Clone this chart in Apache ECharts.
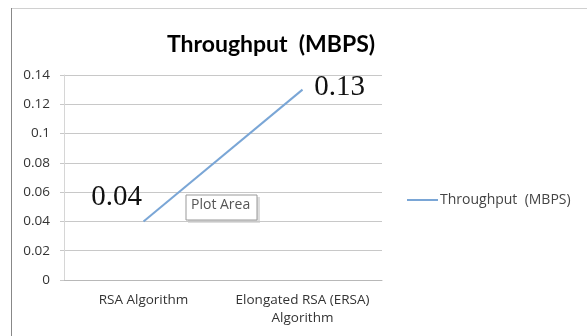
<!DOCTYPE html>
<html>
<head>
<meta charset="utf-8">
<script src="https://cdn.jsdelivr.net/npm/echarts@6/dist/echarts.min.js"></script>
<style>html,body{margin:0;padding:0;background:#fff}#c{width:587px;height:336px}</style>
</head>
<body>
<div id="c"></div>
<script>
var categories = ['RSA Algorithm', 'Elongated RSA (ERSA)\nAlgorithm'];
var throughput = [0.04, 0.13];
var seriesName = 'Throughput  (MBPS)';
var titleText = 'Throughput  (MBPS)';

var chart = echarts.init(document.getElementById('c'), null, {renderer: 'canvas'});
var labelOffsets = [[-27, -24], [37, -2]];
chart.setOption({
  animation: false,
  backgroundColor: '#fff',
  title: {
    text: titleText,
    left: 266, top: 28, textAlign: 'center',
    textStyle: {fontFamily: 'Lato', fontWeight: 'bold', fontSize: 23, color: '#000'}
  },
  legend: {
    left: 402, top: 188,
    itemWidth: 31, itemHeight: 14, itemGap: 4,
    icon: 'path://M0,6 L31,6 L31,8 L0,8 Z',
    textStyle: {fontFamily: 'Open Sans', fontSize: 14, color: '#444', padding: [0, 0, 0, -3]},
    data: [seriesName]
  },
  grid: {left: 64, right: 205, top: 75, bottom: 56},
  xAxis: {
    type: 'category', data: categories, boundaryGap: true,
    axisLine: {lineStyle: {color: '#b8b8b8'}},
    axisTick: {length: 4, lineStyle: {color: '#b8b8b8'}},
    axisLabel: {interval: 0, fontFamily: 'Open Sans', fontSize: 13.5, color: '#333', margin: 11, lineHeight: 18}
  },
  yAxis: {
    type: 'value', min: 0, max: 0.14, interval: 0.02,
    axisLine: {show: true, lineStyle: {color: '#d6d6d6'}},
    axisTick: {show: true, length: 4, lineStyle: {color: '#c8c8c8'}},
    splitLine: {lineStyle: {color: '#c8c8c8'}},
    axisLabel: {fontFamily: 'Open Sans', fontSize: 13.5, color: '#333', margin: 14,
      formatter: function (v) { return String(Math.round(v * 100) / 100); }}
  },
  series: [{
    name: seriesName, type: 'line', data: throughput.map(function (v, i) {
      return {value: v, label: {offset: labelOffsets[i]}};
    }),
    symbol: 'circle', symbolSize: 0.01, showSymbol: true,
    lineStyle: {color: '#7aa6d6', width: 2},
    itemStyle: {color: '#7aa6d6'},
    label: {show: true, position: 'inside', fontFamily: 'Liberation Serif', fontSize: 29, color: '#111'}
  }],
  graphic: [
    {type: 'line', shape: {x1: 11, y1: 8.5, x2: 587, y2: 8.5}, style: {stroke: '#d0d0d0', lineWidth: 1}},
    {type: 'line', shape: {x1: 11.5, y1: 8, x2: 11.5, y2: 336}, style: {stroke: '#888', lineWidth: 1}},
    {type: 'rect', shape: {x: 188, y: 197, width: 72, height: 26}, style: {fill: '#ddd'}},
    {type: 'rect', shape: {x: 186, y: 195, width: 71, height: 25}, style: {fill: '#fff', stroke: '#999', lineWidth: 1}},
    {type: 'text', left: 191, top: 198, style: {text: 'Plot Area', fontFamily: 'Open Sans', fontSize: 14, fill: '#555'}}
  ]
});
</script>
</body>
</html>
